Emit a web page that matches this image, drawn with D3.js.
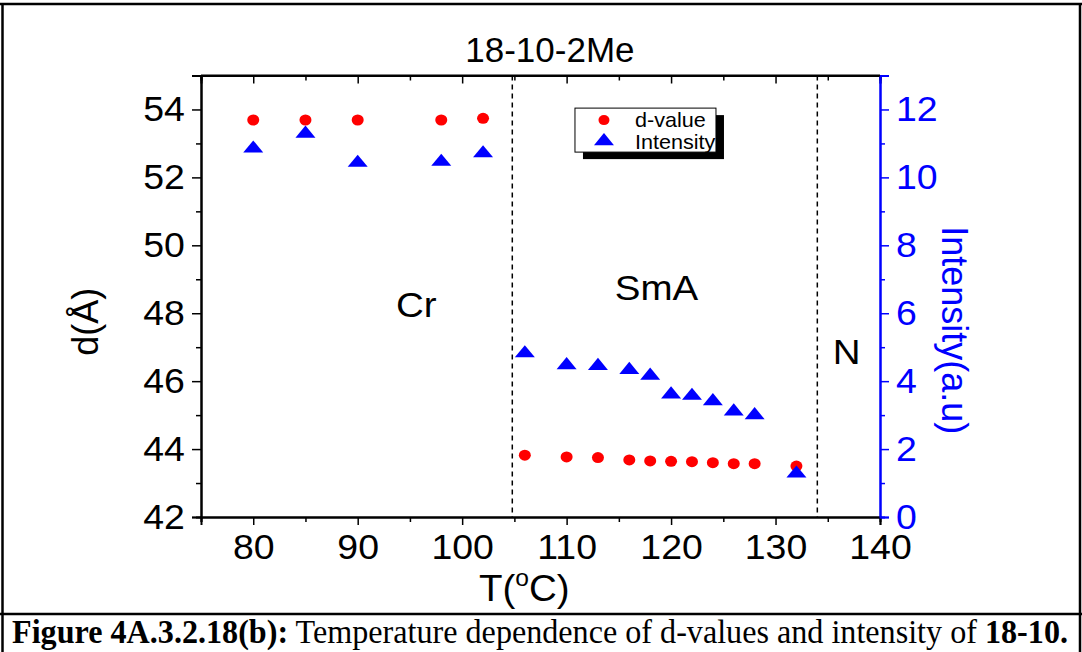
<!DOCTYPE html>
<html>
<head>
<meta charset="utf-8">
<script src="https://cdn.jsdelivr.net/npm/d3@7"></script>
<style>
  body { margin: 0; background: #fff; }
  svg { display: block; }
  .tick text { font-family: Arial, 'Liberation Sans', sans-serif; }
</style>
</head>
<body>
<div id="chart"></div>
<script>
'use strict'

// Data
const temps = [80, 85, 90, 98, 102, 106, 110, 113, 116, 118, 120, 122, 124, 126, 128, 132]
const dValues = [53.69, 53.69, 53.69, 53.69, 53.74, 43.82, 43.77, 43.75, 43.68, 43.65, 43.64, 43.63, 43.6, 43.57, 43.57, 43.5]
const intensity = [10.85, 11.29, 10.43, 10.46, 10.71, 4.82, 4.47, 4.45, 4.33, 4.16, 3.61, 3.57, 3.41, 3.11, 3.0, 1.28]
const phaseBounds = [104.8, 134]
const phaseLabels = [
  { text: 'Cr', t: 95.6, d: 47.9 },
  { text: 'SmA', t: 118.6, d: 48.4 },
  { text: 'N', t: 136.8, d: 46.5 },
]
const xTicks = [80, 90, 100, 110, 120, 130, 140]
const xMinor = [75, 85, 95, 105, 115, 125, 135]
const yLeftTicks = [42, 44, 46, 48, 50, 52, 54]
const yLeftMinor = [43, 45, 47, 49, 51, 53]
const yRightTicks = [0, 2, 4, 6, 8, 10, 12]
const yRightMinor = [1, 3, 5, 7, 9, 11]
const legendLabels = ['d-value', 'Intensity']

function draw() {
  const dimensions = {
    width: 1082,
    height: 652,
    margin: { top: 75.5, right: 202, bottom: 135, left: 201 },
  }
  const plotW = dimensions.width - dimensions.margin.left - dimensions.margin.right
  const plotH = dimensions.height - dimensions.margin.top - dimensions.margin.bottom
  const font = 'Arial, "Liberation Sans", sans-serif'
  const blue = '#0000ff'
  const sx = 1.07 // the original figure is a little wider than tall

  const svg = d3
    .select('#chart')
    .append('svg')
    .attr('width', dimensions.width)
    .attr('height', dimensions.height)

  svg.append('rect').attr('width', dimensions.width).attr('height', dimensions.height).attr('fill', '#fff')

  // Page frame (document table)
  const frame = svg.append('g').attr('stroke', '#000').attr('stroke-width', 2.5)
  frame.append('line').attr('x1', 0).attr('x2', dimensions.width).attr('y1', 4).attr('y2', 4)
  frame.append('line').attr('x1', 2.5).attr('x2', 2.5).attr('y1', 4).attr('y2', dimensions.height)
  frame.append('line').attr('x1', 1080).attr('x2', 1080).attr('y1', 4).attr('y2', dimensions.height)
  frame.append('line').attr('x1', 0).attr('x2', dimensions.width).attr('y1', 614).attr('y2', 614)

  const caption = svg
    .append('text')
    .attr('transform', 'translate(12, 643) scale(1, 1.18)')
    .attr('textLength', 1056)
    .attr('lengthAdjust', 'spacingAndGlyphs')
    .attr('font-family', '"Liberation Serif", "Times New Roman", serif')
    .attr('font-size', 29)
  caption.append('tspan').attr('font-weight', 'bold').text('Figure 4A.3.2.18(b):')
  caption.append('tspan').text(' Temperature dependence of d-values and intensity of ')
  caption.append('tspan').attr('font-weight', 'bold').text('18-10.')

  const container = svg
    .append('g')
    .attr('transform', `translate(${dimensions.margin.left}, ${dimensions.margin.top})`)

  // Scales
  const xScale = d3.scaleLinear().domain([75, 140]).range([0, plotW])
  const yLeft = d3.scaleLinear().domain([42, 55]).range([plotH, 0])
  const yRight = d3.scaleLinear().domain([0, 13]).range([plotH, 0])

  // Axes
  const styleAxis = (g, color, size) => {
    g.select('.domain').attr('stroke', color).attr('stroke-width', 2)
    g.selectAll('.tick line').attr('stroke', color).attr('stroke-width', 1.5)
    g.selectAll('.tick text')
      .attr('fill', color)
      .attr('font-size', size)
      .attr('transform', `scale(${sx}, 1)`)
  }

  // minor ticks first
  container
    .append('g')
    .attr('transform', `translate(0, ${plotH})`)
    .call(d3.axisBottom(xScale).tickValues(xMinor).tickSize(5).tickFormat(''))
    .call((g) => styleAxis(g, '#000', 0))
  container
    .append('g')
    .call(d3.axisBottom(xScale).tickValues(xMinor).tickSize(5).tickFormat(''))
    .call((g) => styleAxis(g, '#000', 0))
  container
    .append('g')
    .call(d3.axisBottom(xScale).tickValues(xTicks).tickSize(8).tickFormat(''))
    .call((g) => styleAxis(g, '#000', 0))
  container
    .append('g')
    .call(d3.axisLeft(yLeft).tickValues(yLeftMinor).tickSize(5).tickFormat(''))
    .call((g) => styleAxis(g, '#000', 0))
  container
    .append('g')
    .attr('transform', `translate(${plotW}, 0)`)
    .call(d3.axisRight(yRight).tickValues(yRightMinor).tickSize(5).tickFormat(''))
    .call((g) => styleAxis(g, blue, 0))

  container
    .append('g')
    .attr('transform', `translate(0, ${plotH})`)
    .call(d3.axisBottom(xScale).tickValues(xTicks).tickSize(8).tickPadding(9))
    .call((g) => styleAxis(g, '#000', 35))

  container
    .append('g')
    .call(d3.axisLeft(yLeft).tickValues(yLeftTicks).tickSize(9).tickPadding(6))
    .call((g) => styleAxis(g, '#000', 35))

  container
    .append('g')
    .attr('transform', `translate(${plotW}, 0)`)
    .call(d3.axisRight(yRight).tickValues(yRightTicks).tickSize(9).tickPadding(6))
    .call((g) => styleAxis(g, blue, 35))

  // top frame line
  container
    .append('line')
    .attr('x1', 0)
    .attr('x2', plotW)
    .attr('y1', 0)
    .attr('y2', 0)
    .attr('stroke', '#000')
    .attr('stroke-width', 2)

  // Axis titles
  const xTitle = container
    .append('text')
    .attr('transform', `translate(${xScale(105.95)}, ${plotH + 84}) scale(${sx}, 1)`)
    .attr('text-anchor', 'middle')
    .attr('font-family', font)
    .attr('font-size', 36)
  xTitle.append('tspan').text('T(')
  xTitle.append('tspan').attr('font-size', 23).attr('dy', -15).text('o')
  xTitle.append('tspan').attr('dy', 15).text('C)')

  container
    .append('text')
    .attr('transform', `translate(-103, ${yLeft(47.75)}) rotate(-90)`)
    .attr('text-anchor', 'middle')
    .attr('font-family', font)
    .attr('font-size', 36)
    .text('d(Å)')

  container
    .append('text')
    .attr('transform', `translate(${plotW + 62}, ${yRight(5.5)}) rotate(90)`)
    .attr('text-anchor', 'middle')
    .attr('font-family', font)
    .attr('font-size', 36)
    .attr('fill', blue)
    .text('Intensity(a.u)')

  // Chart title
  container
    .append('text')
    .attr('transform', `translate(${xScale(108.4)}, -14)`)
    .attr('text-anchor', 'middle')
    .attr('font-family', font)
    .attr('font-size', 35)
    .text('18-10-2Me')

  // Phase boundaries
  container
    .selectAll('.boundary')
    .data(phaseBounds)
    .join('line')
    .attr('class', 'boundary')
    .attr('x1', (d) => xScale(d))
    .attr('x2', (d) => xScale(d))
    .attr('y1', 0)
    .attr('y2', plotH)
    .attr('stroke', '#000')
    .attr('stroke-width', 1.5)
    .attr('stroke-dasharray', '5,4')

  container
    .selectAll('.phase')
    .data(phaseLabels)
    .join('text')
    .attr('class', 'phase')
    .attr('transform', (d) => `translate(${xScale(d.t)}, ${yLeft(d.d)}) scale(1.1, 1)`)
    .attr('text-anchor', 'middle')
    .attr('font-family', font)
    .attr('font-size', 35)
    .text((d) => d.text)

  const points = temps.map((t, i) => ({ t, d: dValues[i], inten: intensity[i] }))

  const triangle = d3.symbol(d3.symbolTriangle, 95)

  // Draw points
  container
    .selectAll('.dval')
    .data(points)
    .join('ellipse')
    .attr('class', 'dval')
    .attr('cx', (d) => xScale(d.t))
    .attr('cy', (d) => yLeft(d.d))
    .attr('rx', 6)
    .attr('ry', 5.5)
    .attr('fill', '#ff0000')

  container
    .selectAll('.inten')
    .data(points)
    .join('path')
    .attr('class', 'inten')
    .attr('d', triangle)
    .attr('transform', (d) => `translate(${xScale(d.t)}, ${yRight(d.inten)}) scale(1.35, 0.95)`)
    .attr('fill', blue)

  // Legend
  const legend = container.append('g').attr('transform', `translate(${xScale(110.8)}, ${yLeft(54.04)})`)
  legend.append('rect').attr('x', 8).attr('y', 7).attr('width', 141).attr('height', 44).attr('fill', '#000')
  legend
    .append('rect')
    .attr('width', 141)
    .attr('height', 44)
    .attr('fill', '#fff')
    .attr('stroke', '#000')
    .attr('stroke-width', 1)
  legend.append('ellipse').attr('cx', 29).attr('cy', 12).attr('rx', 5.5).attr('ry', 5).attr('fill', '#ff0000')
  legend
    .append('path')
    .attr('d', triangle)
    .attr('transform', 'translate(29, 33) scale(1.35, 0.95)')
    .attr('fill', blue)
  legend
    .selectAll('.ltext')
    .data(legendLabels)
    .join('text')
    .attr('class', 'ltext')
    .attr('transform', (d, i) => `translate(60, ${19 + i * 22}) scale(1.08, 1)`)
    .attr('font-family', font)
    .attr('font-size', 20)
    .text((d) => d)
}

draw()
</script>
</body>
</html>
